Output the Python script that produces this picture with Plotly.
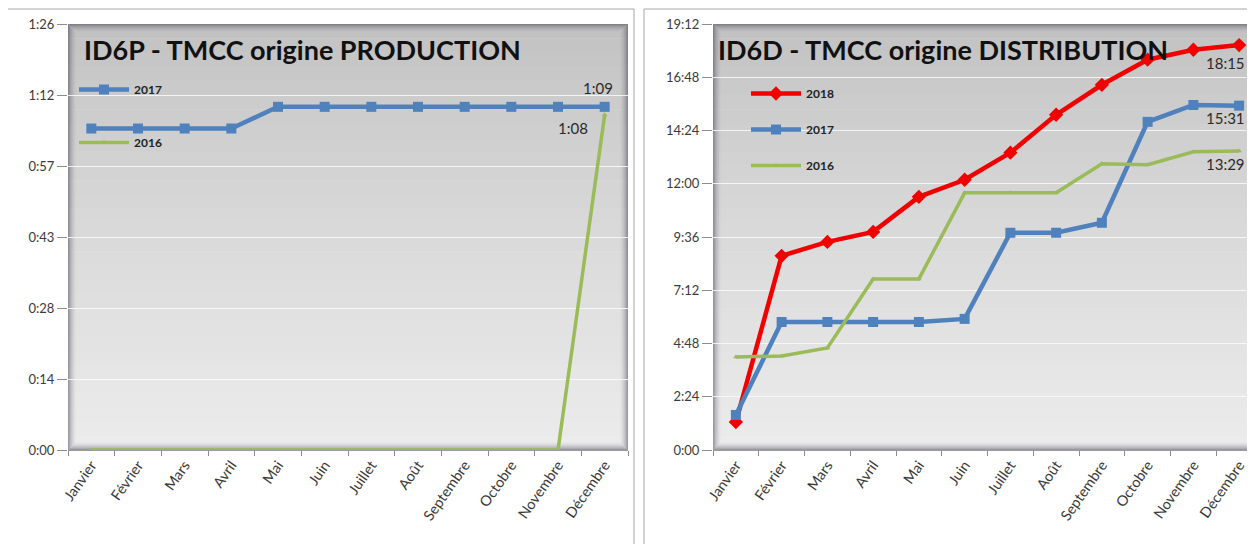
import plotly.graph_objects as go

# ---------------- data ----------------
months = ["Janvier", "Février", "Mars", "Avril", "Mai", "Juin", "Juillet",
          "Août", "Septembre", "Octobre", "Novembre", "Décembre"]

# Left chart (minutes)
prod_2017 = [65.2, 65.2, 65.2, 65.2, 69.6, 69.6, 69.6, 69.6, 69.6, 69.6, 69.6, 69.6]
prod_2016 = [0, 0, 0, 0, 0, 0, 0, 0, 0, 0, 0, 68.0]
prod_ticks = [0, 14.4, 28.8, 43.2, 57.6, 72.0, 86.4]
prod_ticktext = ["0:00", "0:14", "0:28", "0:43", "0:57", "1:12", "1:26"]

# Right chart (hours)
dist_2018 = [1.26, 8.75, 9.38, 9.83, 11.41, 12.18, 13.40, 15.11, 16.46, 17.59, 18.04, 18.25]
dist_2017 = [1.58, 5.77, 5.77, 5.77, 5.77, 5.91, 9.79, 9.79, 10.24, 14.79, 15.55, 15.52]
dist_2016 = [4.19, 4.24, 4.60, 7.71, 7.71, 11.59, 11.59, 11.59, 12.90, 12.86, 13.44, 13.48]
dist_ticks = [0, 2.4, 4.8, 7.2, 9.6, 12.0, 14.4, 16.8, 19.2]
dist_ticktext = ["0:00", "2:24", "4:48", "7:12", "9:36", "12:00", "14:24", "16:48", "19:12"]

BLUE = "#4f81bd"
GREEN = "#9bbb59"
RED = "#f20000"
FONT = "Lato"
W, H = 1255, 544
OX, OY = 8, 8  # page body margin compensation


def px(x):
    return (x - OX) / W


def py(y):
    return 1 - (y - OY) / H


fig = go.Figure()

fig.add_trace(go.Scatter(x=months, y=prod_2017, name="2017", mode="lines+markers",
                         line=dict(color=BLUE, width=4.5),
                         marker=dict(symbol="square", size=10, color=BLUE),
                         xaxis="x", yaxis="y", legend="legend", legendgroup="a17"))
fig.add_trace(go.Scatter(x=months, y=prod_2016, name="2016", mode="lines+markers",
                         line=dict(color=GREEN, width=3.5),
                         marker=dict(symbol="triangle-up", size=5, color=GREEN),
                         xaxis="x", yaxis="y", legend="legend", legendgroup="a16"))

fig.add_trace(go.Scatter(x=months, y=dist_2018, name="2018", mode="lines+markers",
                         line=dict(color=RED, width=4.5),
                         marker=dict(symbol="diamond", size=11, color=RED),
                         xaxis="x2", yaxis="y2", legend="legend2", legendgroup="b18"))
fig.add_trace(go.Scatter(x=months, y=dist_2017, name="2017", mode="lines+markers",
                         line=dict(color=BLUE, width=4.5),
                         marker=dict(symbol="square", size=10, color=BLUE),
                         xaxis="x2", yaxis="y2", legend="legend2", legendgroup="b17"))
fig.add_trace(go.Scatter(x=months, y=dist_2016, name="2016", mode="lines+markers",
                         line=dict(color=GREEN, width=3.5),
                         marker=dict(symbol="triangle-up", size=5, color=GREEN),
                         xaxis="x2", yaxis="y2", legend="legend2", legendgroup="b16"))

shapes = []


def panel(x0, x1, y0, y1):
    n = 30
    top = (194, 194, 194)
    bot = (236, 236, 236)
    for i in range(n):
        t = i / (n - 1)
        c = tuple(int(top[k] + (bot[k] - top[k]) * (t ** 0.8)) for k in range(3))
        ya = y0 + (y1 - y0) * i / n
        yb = y0 + (y1 - y0) * (i + 1) / n + 0.5
        shapes.append(dict(type="rect", xref="paper", yref="paper", layer="below",
                           x0=px(x0), x1=px(x1), y0=py(ya), y1=py(yb),
                           fillcolor="rgb(%d,%d,%d)" % c, line=dict(width=0)))
    for i in range(9):
        a = 0.42 * (1 - i / 9) ** 2
        shapes.append(dict(type="rect", xref="paper", yref="paper", layer="below",
                           x0=px(x0 + i + 0.5), x1=px(x1 - i - 0.5),
                           y0=py(y0 + i + 0.5), y1=py(y1 - i - 0.5),
                           fillcolor="rgba(0,0,0,0)",
                           line=dict(color="rgba(40,40,60,%.3f)" % a, width=1)))


panel(68, 628, 24, 450)
panel(713, 1262, 24, 450)

for fx0, fx1 in [(7, 634), (644, 1270)]:
    shapes.append(dict(type="rect", xref="paper", yref="paper", layer="above",
                       x0=px(fx0), x1=px(fx1), y0=py(9), y1=py(580),
                       fillcolor="rgba(0,0,0,0)", line=dict(color="#a6a6a6", width=1)))

tickfont = dict(family=FONT, size=13, color="#3a3a3a")
axcommon = dict(showgrid=False, ticks="outside", tickcolor="#8c8c8c", ticklen=5,
                showline=True, linecolor="#9a9a9a", linewidth=1, automargin=False,
                tickangle=-55, tickfont=dict(family=FONT, size=14.5, color="#3a3a3a"),
                tickson="boundaries", fixedrange=True)
yaxcommon = dict(showgrid=True, gridcolor="rgba(250,250,250,0.85)", gridwidth=1,
                 ticks="outside", tickcolor="#8c8c8c", ticklen=10, automargin=False,
                 showline=False, zeroline=False, tickfont=tickfont, fixedrange=True)

ydom = [py(450), py(24)]
legfont = dict(family=FONT, size=12, color="#222", weight="bold")
fig.update_layout(
    width=W, height=H, autosize=False,
    margin=dict(l=0, r=0, t=0, b=0, pad=0, autoexpand=False),
    paper_bgcolor="white", plot_bgcolor="rgba(0,0,0,0)",
    xaxis=dict(domain=[px(68), px(628)], anchor="y", range=[-0.5, 11.5], **axcommon),
    yaxis=dict(domain=ydom, anchor="x", range=[0, 86.4], tickvals=prod_ticks,
               ticktext=prod_ticktext, **yaxcommon),
    xaxis2=dict(domain=[px(713), 1.0], anchor="y2",
                range=[-0.5, 11.5 - (1262 - (W + OX)) / 45.75], **axcommon),
    yaxis2=dict(domain=ydom, anchor="x2", range=[0, 19.2], tickvals=dist_ticks,
                ticktext=dist_ticktext, **yaxcommon),
    legend=dict(x=px(74), y=py(75), xanchor="left", yanchor="top",
                bgcolor="rgba(0,0,0,0)", itemwidth=50, tracegroupgap=34,
                font=legfont, itemclick=False),
    legend2=dict(x=px(746), y=py(79), xanchor="left", yanchor="top",
                 bgcolor="rgba(0,0,0,0)", itemwidth=50, tracegroupgap=17,
                 font=legfont, itemclick=False),
    shapes=shapes,
    showlegend=True,
)

anns = []
anns.append(dict(text="<b>ID6P - TMCC origine PRODUCTION</b>", xref="paper", yref="paper",
                 x=px(82), y=py(50), xanchor="left", yanchor="middle", showarrow=False,
                 font=dict(family=FONT, size=27, color="#111")))
anns.append(dict(text="<b>ID6D - TMCC origine DISTRIBUTION</b>", xref="paper", yref="paper",
                 x=px(716), y=py(50), xanchor="left", yanchor="middle", showarrow=False,
                 font=dict(family=FONT, size=27, color="#111")))
lblfont = dict(family=FONT, size=15, color="#2a2a2a")
anns.append(dict(text="1:09", x=months[-1], y=prod_2017[-1], xref="x", yref="y",
                 showarrow=False, xshift=-7, yshift=19, font=lblfont))
anns.append(dict(text="1:08", x=months[-1], y=prod_2016[-1], xref="x", yref="y",
                 showarrow=False, xshift=-32, yshift=-13, font=lblfont))
anns.append(dict(text="18:15", x=months[-1], y=dist_2018[-1], xref="x2", yref="y2",
                 showarrow=False, xshift=-14, yshift=-18, font=lblfont))
anns.append(dict(text="15:31", x=months[-1], y=dist_2017[-1], xref="x2", yref="y2",
                 showarrow=False, xshift=-14, yshift=-12, font=lblfont))
anns.append(dict(text="13:29", x=months[-1], y=dist_2016[-1], xref="x2", yref="y2",
                 showarrow=False, xshift=-14, yshift=-13, font=lblfont))
fig.update_layout(annotations=anns)

fig.write_html("out.html")
